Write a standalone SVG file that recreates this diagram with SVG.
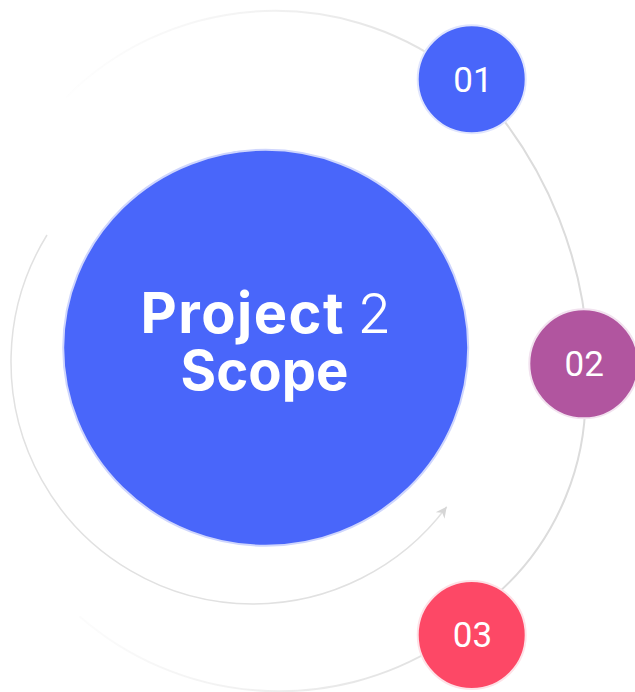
<svg xmlns="http://www.w3.org/2000/svg" width="635" height="692" viewBox="0 0 635 692">
  <defs>
    <linearGradient id="gTop" gradientUnits="userSpaceOnUse" x1="66" y1="97" x2="450" y2="68">
      <stop offset="0" stop-color="#fefefe"/>
      <stop offset="0.5" stop-color="#f3f3f3"/>
      <stop offset="1" stop-color="#e0e0e0"/>
    </linearGradient>
    <linearGradient id="gBot" gradientUnits="userSpaceOnUse" x1="440" y1="645" x2="80" y2="617">
      <stop offset="0" stop-color="#e0e0e0"/>
      <stop offset="0.5" stop-color="#f0f0f0"/>
      <stop offset="1" stop-color="#fcfcfc"/>
    </linearGradient>
    <marker id="arrow" markerUnits="userSpaceOnUse" markerWidth="16" markerHeight="16" refX="0" refY="0" viewBox="-12 -8 16 16" orient="auto" overflow="visible">
      <path d="M0,0 L-11,-5.5 L-7.5,0 L-11,5.5 Z" fill="#d6d6d6"/>
    </marker>
  </defs>
  <style>
    .orbit { fill: none; stroke-width: 2; stroke-linecap: round; }
    .solid { stroke: #dcdcdc; }
    .inner { fill: none; stroke: #e1e1e1; stroke-width: 1.5; }
    .num { font-family: Roboto, "Liberation Sans", sans-serif; font-size: 35px; fill: #ffffff; text-anchor: middle; }
    .title { font-family: Inter, "Liberation Sans", sans-serif; fill: #ffffff; }
  </style>
  <rect width="635" height="692" fill="#ffffff"/>
  <g id="connectors">
    <path class="orbit" stroke="url(#gTop)" d="M66.7,96.7 A296,296 0 0 1 450,68"/>
    <path class="orbit solid" d="M490,103 A420,420 0 0 1 588,350"/>
    <path class="orbit solid" d="M584,370 A264,264 0 0 1 490,600"/>
    <path class="orbit" stroke="url(#gBot)" d="M440,645 A303,303 0 0 1 80,616.7"/>
    <path class="inner" d="M47,235 A242,242 0 0 0 253,604 A242,242 0 0 0 446.7,506.7" marker-end="url(#arrow)"/>
  </g>
  <g id="main">
    <ellipse cx="265.7" cy="347.8" rx="202.5" ry="198" fill="#4966FA" stroke="#cfd6fd" stroke-width="2"/>
    <text class="title" x="140.5" y="333" font-size="56" font-weight="700" textLength="203" lengthAdjust="spacing">Project</text>
    <text class="title" x="357.5" y="333" font-size="55" font-weight="300">2</text>
    <text class="title" x="180.5" y="390" font-size="54.5" font-weight="700">Scope</text>
  </g>
  <g id="n01">
    <circle cx="471.7" cy="79.2" r="54" fill="#4966FA" stroke="#e0e5fd" stroke-width="2"/>
    <text class="num" x="473" y="91.7">01</text>
  </g>
  <g id="n02">
    <circle cx="583.8" cy="363.8" r="54.5" fill="#B1559F" stroke="#f2e2ef" stroke-width="2"/>
    <text class="num" x="584.2" y="376">02</text>
  </g>
  <g id="n03">
    <circle cx="471.7" cy="635" r="54" fill="#FD4866" stroke="#fde2e7" stroke-width="2"/>
    <text class="num" x="472.5" y="646.7">03</text>
  </g>
</svg>
